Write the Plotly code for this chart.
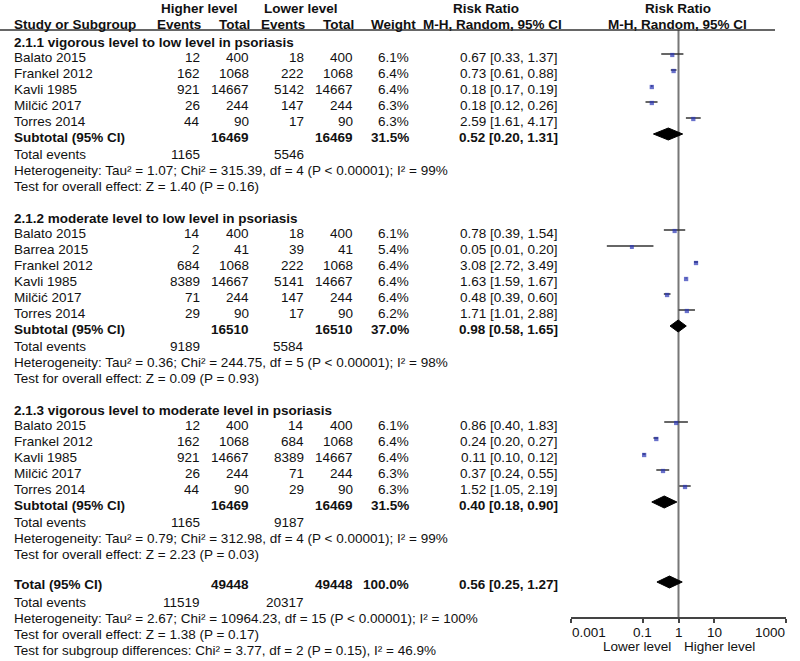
import math
import plotly.graph_objects as go

W, H = 800, 661

# ---------------- data ----------------
group_titles = [
    "2.1.1 vigorous level to low level in psoriasis",
    "2.1.2 moderate level to low level in psoriasis",
    "2.1.3 vigorous level to moderate level in psoriasis",
]
study_group = [0, 0, 0, 0, 0, 1, 1, 1, 1, 1, 1, 2, 2, 2, 2, 2]
study_names = ["Balato 2015", "Frankel 2012", "Kavli 1985", "Milčić 2017", "Torres 2014",
               "Balato 2015", "Barrea 2015", "Frankel 2012", "Kavli 1985", "Milčić 2017", "Torres 2014",
               "Balato 2015", "Frankel 2012", "Kavli 1985", "Milčić 2017", "Torres 2014"]
hi_events = [12, 162, 921, 26, 44, 14, 2, 684, 8389, 71, 29, 12, 162, 921, 26, 44]
hi_total = [400, 1068, 14667, 244, 90, 400, 41, 1068, 14667, 244, 90, 400, 1068, 14667, 244, 90]
lo_events = [18, 222, 5142, 147, 17, 18, 39, 222, 5141, 147, 17, 14, 684, 8389, 71, 29]
lo_total = [400, 1068, 14667, 244, 90, 400, 41, 1068, 14667, 244, 90, 400, 1068, 14667, 244, 90]
weight = [6.1, 6.4, 6.4, 6.3, 6.3, 6.1, 5.4, 6.4, 6.4, 6.4, 6.2, 6.1, 6.4, 6.4, 6.3, 6.3]
rr = [0.67, 0.73, 0.18, 0.18, 2.59, 0.78, 0.05, 3.08, 1.63, 0.48, 1.71, 0.86, 0.24, 0.11, 0.37, 1.52]
rr_lo = [0.33, 0.61, 0.17, 0.12, 1.61, 0.39, 0.01, 2.72, 1.59, 0.39, 1.01, 0.40, 0.20, 0.10, 0.24, 1.05]
rr_hi = [1.37, 0.88, 0.19, 0.26, 4.17, 1.54, 0.20, 3.49, 1.67, 0.60, 2.88, 1.83, 0.27, 0.12, 0.55, 2.19]

sub_hi_total = [16469, 16510, 16469]
sub_lo_total = [16469, 16510, 16469]
sub_weight = [31.5, 37.0, 31.5]
sub_rr = [0.52, 0.98, 0.40]
sub_lo = [0.20, 0.58, 0.18]
sub_hi = [1.31, 1.65, 0.90]
sub_hi_events = [1165, 9189, 1165]
sub_lo_events = [5546, 5584, 9187]
sub_het = [
    "Heterogeneity: Tau² = 1.07; Chi² = 315.39, df = 4 (P < 0.00001); I² = 99%",
    "Heterogeneity: Tau² = 0.36; Chi² = 244.75, df = 5 (P < 0.00001); I² = 98%",
    "Heterogeneity: Tau² = 0.79; Chi² = 312.98, df = 4 (P < 0.00001); I² = 99%",
]
sub_test = [
    "Test for overall effect: Z = 1.40 (P = 0.16)",
    "Test for overall effect: Z = 0.09 (P = 0.93)",
    "Test for overall effect: Z = 2.23 (P = 0.03)",
]

tot_hi_total = 49448
tot_lo_total = 49448
tot_weight = 100.0
tot_rr, tot_lo, tot_hi = 0.56, 0.25, 1.27
tot_hi_events, tot_lo_events = 11519, 20317
tot_het = "Heterogeneity: Tau² = 2.67; Chi² = 10964.23, df = 15 (P < 0.00001); I² = 100%"
tot_test = "Test for overall effect: Z = 1.38 (P = 0.17)"
tot_subdiff = "Test for subgroup differences: Chi² = 3.77, df = 2 (P = 0.15), I² = 46.9%"

axis_ticks = [0.001, 0.1, 1, 10, 1000]
axis_ticktext = ["0.001", "0.1", "1", "10", "1000"]

# ---------------- layout constants ----------------
FONT = "Liberation Sans, Arial, Helvetica, sans-serif"
FS = 13.5
TXT = "#111111"
X_NAME = 13
X_HE, X_HT, X_LE, X_LT, X_W, X_RR = 201, 250, 305, 354, 410, 559
AXIS_Y = 618
OFF = -2  # forest mark offset from text row

annotations = []


def txt(x, y, s, anchor="left", bold=False):
    annotations.append(dict(
        x=x / W, xref="paper", y=y, yref="y", text=("<b>%s</b>" % s) if bold else s,
        xanchor=anchor, yanchor="middle", showarrow=False, borderpad=0,
        font=dict(family=FONT, size=FS, color=TXT)))


def ci(v, lo, hi):
    return "%.2f [%.2f, %.2f]" % (v, lo, hi)


# headers
txt(199, 8, "Higher level", "center", True)
txt(301, 8, "Lower level", "center", True)
txt(486, 8, "Risk Ratio", "center", True)
txt(678, 8, "Risk Ratio", "center", True)
txt(X_NAME, 24, "Study or Subgroup", "left", True)
txt(X_HE + 1, 24, "Events", "right", True)
txt(X_HT + 1, 24, "Total", "right", True)
txt(X_LE + 1, 24, "Events", "right", True)
txt(X_LT + 1, 24, "Total", "right", True)
txt(X_W + 7, 24, "Weight", "right", True)
txt(492, 24, "M-H, Random, 95% CI", "center", True)
txt(677, 24, "M-H, Random, 95% CI", "center", True)

ci_x, ci_y, pt_x, pt_y, pt_s = [], [], [], [], []
diamonds = []

y = 42
for g in range(len(group_titles)):
    txt(X_NAME, y, group_titles[g], "left", True)
    y += 15
    idx = [i for i, gg in enumerate(study_group) if gg == g]
    for k, i in enumerate(idx):
        if k > 0:
            y += 16
        txt(X_NAME, y, study_names[i])
        txt(X_HE, y, str(hi_events[i]), "right")
        txt(X_HT, y, str(hi_total[i]), "right")
        txt(X_LE, y, str(lo_events[i]), "right")
        txt(X_LT, y, str(lo_total[i]), "right")
        txt(X_W, y, "%.1f%%" % weight[i], "right")
        txt(X_RR, y, ci(rr[i], rr_lo[i], rr_hi[i]), "right")
        ci_x += [rr_lo[i], rr_hi[i], None]
        ci_y += [y + OFF - 1, y + OFF - 1, None]
        pt_x.append(rr[i])
        pt_y.append(y + OFF)
        pt_s.append(1.7 * math.sqrt(weight[i]))
    y += 16
    txt(X_NAME, y, "Subtotal (95% CI)", "left", True)
    txt(X_HT, y, str(sub_hi_total[g]), "right", True)
    txt(X_LT, y, str(sub_lo_total[g]), "right", True)
    txt(X_W, y, "%.1f%%" % sub_weight[g], "right", True)
    txt(X_RR, y, ci(sub_rr[g], sub_lo[g], sub_hi[g]), "right", True)
    diamonds.append((sub_rr[g], sub_lo[g], sub_hi[g], y - 3))
    y += 17
    txt(X_NAME, y, "Total events")
    txt(X_HE, y, str(sub_hi_events[g]), "right")
    txt(X_LE, y, str(sub_lo_events[g]), "right")
    y += 16
    txt(X_NAME, y, sub_het[g])
    y += 16
    txt(X_NAME, y, sub_test[g])
    y += 32

y -= 2
txt(X_NAME, y, "Total (95% CI)", "left", True)
txt(X_HT, y, str(tot_hi_total), "right", True)
txt(X_LT, y, str(tot_lo_total), "right", True)
txt(X_W, y, "%.1f%%" % tot_weight, "right", True)
txt(X_RR, y, ci(tot_rr, tot_lo, tot_hi), "right", True)
diamonds.append((tot_rr, tot_lo, tot_hi, y - 2))
y += 18
txt(X_NAME, y, "Total events")
txt(X_HE, y, str(tot_hi_events), "right")
txt(X_LE, y, str(tot_lo_events), "right")
y += 16
txt(X_NAME, y, tot_het)
y += 16
txt(X_NAME, y, tot_test)
y += 16
txt(X_NAME, y, tot_subdiff)

# tick labels (ends aligned inward, as in RevMan plots)
for k, (v, t) in enumerate(zip(axis_ticks, axis_ticktext)):
    anchor = "left" if k == 0 else ("right" if k == len(axis_ticks) - 1 else "center")
    annotations.append(dict(
        x=math.log10(v), xref="x", y=632, yref="y", text=t, xanchor=anchor, yanchor="middle",
        showarrow=False, borderpad=0, font=dict(family=FONT, size=FS, color=TXT)))

# axis side labels
txt(637, 646, "Lower level", "center")
txt(719, 646, "Higher level", "center")

fig = go.Figure()
fig.add_trace(go.Scatter(x=ci_x, y=ci_y, mode="lines",
                         line=dict(color="#333333", width=1.5), hoverinfo="skip", showlegend=False))
fig.add_trace(go.Scatter(x=pt_x, y=pt_y, mode="markers",
                         marker=dict(symbol="square", size=pt_s, color="#2a35b5", line=dict(width=0)),
                         showlegend=False))
DH = 6
for (v, lo, hi, yy) in diamonds:
    fig.add_trace(go.Scatter(x=[lo, v, hi, v, lo], y=[yy, yy - DH, yy, yy + DH, yy],
                             mode="lines", fill="toself", fillcolor="#000000",
                             line=dict(color="#000000", width=1), showlegend=False, hoverinfo="skip"))

shapes = [
    dict(type="line", xref="paper", yref="paper", x0=0, x1=775 / W, y0=1 - 30 / H, y1=1 - 30 / H,
         line=dict(color="#333333", width=1.5)),
    dict(type="line", xref="x", yref="y", x0=1, x1=1, y0=30, y1=AXIS_Y,
         line=dict(color="#777777", width=2), layer="below"),
]

fig.update_layout(
    width=W, height=H, margin=dict(l=0, r=0, t=0, b=0),
    paper_bgcolor="white", plot_bgcolor="rgba(0,0,0,0)",
    annotations=annotations, shapes=shapes, showlegend=False,
    xaxis=dict(type="log", range=[-3, 3], domain=[571 / W, 786 / W], anchor="free",
               position=(H - AXIS_Y) / H, showline=True, linecolor="#444444", linewidth=1.5,
               ticks="outside", ticklen=4, tickwidth=1.5, tickcolor="#444444",
               tickvals=axis_ticks, showticklabels=False, showgrid=False, zeroline=False),
    yaxis=dict(range=[H, 0], domain=[0, 1], visible=False, showgrid=False, zeroline=False),
)

fig.write_html("out.html", config={"displayModeBar": False},
               post_script="document.body.style.margin='0px';document.body.style.overflow='hidden';")
